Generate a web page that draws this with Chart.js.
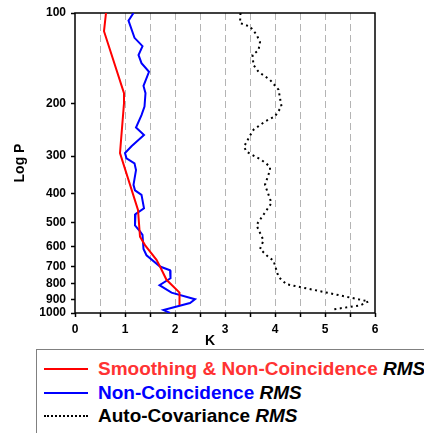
<!DOCTYPE html>
<html>
<head>
<meta charset="utf-8">
<script src="https://cdn.jsdelivr.net/npm/chart.js@4/dist/chart.umd.min.js"></script>
<style>
  html, body { margin: 0; padding: 0; background: #fff; overflow: hidden; width: 424px; height: 433px; }
  #wrap { position: absolute; left: 0; top: 0; width: 424px; height: 345px; }
  #legend {
    position: absolute; left: 36px; top: 349px; width: 420px; height: 110px;
    border: 1.5px solid #808080; box-sizing: border-box;
    font: bold 19px "Liberation Sans", Arial, sans-serif;
  }
  .row { position: absolute; left: 0; height: 22px; line-height: 22px; white-space: nowrap; }
  .swatch { position: absolute; left: 7px; top: 10px; width: 44px; height: 0; }
  .label { position: absolute; left: 61px; top: 0; }
  .label i { color: #000; }
</style>
</head>
<body>
<div id="wrap"><canvas id="profileChart" width="424" height="345"></canvas></div>
<div id="legend">
  <div class="row" style="top:8px"><span class="swatch" style="border-top:2px solid #ff0000"></span><span class="label" style="color:#ff3333">Smoothing &amp; Non-Coincidence <i>RMS</i></span></div>
  <div class="row" style="top:32px"><span class="swatch" style="border-top:2px solid #0000ff"></span><span class="label" style="color:#0000ff">Non-Coincidence <i>RMS</i></span></div>
  <div class="row" style="top:55px"><span class="swatch" style="border-top:2px dotted #000"></span><span class="label" style="color:#000">Auto-Covariance <i>RMS</i></span></div>
</div>
<script>
// pressure levels (hPa) and RMS values (K)
const smoothP = [100, 115, 185, 200, 293, 453, 557, 594, 665, 700, 775, 855, 940];
const smoothK = [0.62, 0.58, 0.98, 0.98, 0.90, 1.26, 1.30, 1.40, 1.63, 1.70, 1.83, 2.09, 2.09];

const nonCoinP = [100, 106, 121, 129, 138, 147, 157, 175, 185, 205, 219, 241, 255, 278, 293, 305, 317, 334, 374, 390,
                  404, 448, 468, 510, 534, 549, 612, 642, 700, 720, 766, 808, 855, 900, 926, 978, 1000];
const nonCoinK = [1.17, 1.07, 1.19, 1.35, 1.27, 1.33, 1.48, 1.37, 1.41, 1.39, 1.33, 1.22, 1.38, 1.13, 1.00, 1.03, 1.19, 1.22, 1.17, 1.20,
                  1.33, 1.38, 1.21, 1.20, 1.30, 1.35, 1.37, 1.43, 1.70, 1.90, 1.91, 1.69, 1.93, 2.40, 2.30, 1.77, 1.90];

const autoCovP = [100, 108, 111, 118, 125, 133, 138, 149, 157, 167, 180, 205, 221, 230, 245, 258, 279, 290, 309, 325,
                  334, 374, 430, 497, 510, 573, 612, 651, 669, 758, 802, 837, 883, 915, 944, 972];
const autoCovK = [3.31, 3.30, 3.50, 3.63, 3.70, 3.67, 3.55, 3.57, 3.67, 3.90, 4.07, 4.13, 4.00, 3.80, 3.57, 3.49, 3.38, 3.43, 3.73, 3.90,
                  3.90, 3.80, 3.93, 3.67, 3.63, 3.77, 3.70, 3.87, 3.97, 4.07, 4.23, 4.77, 5.43, 5.87, 5.70, 5.17];

const yTickValues = [100, 200, 300, 400, 500, 600, 700, 800, 900, 1000];

const toPoints = (ps, ks) => ps.map((p, i) => ({ x: ks[i], y: p }));

const tickFont = { family: '"Liberation Sans", Arial, sans-serif', size: 12, weight: 'bold' };

// frame round the plot area plus the two axis titles
const frameAndTitles = {
    id: 'frameAndTitles',
    beforeDatasetsDraw(chart) {
        const { ctx, chartArea: a } = chart;
        ctx.save();
        ctx.strokeStyle = '#000';
        ctx.lineWidth = 1.5;
        ctx.strokeRect(a.left, a.top, a.right - a.left, a.bottom - a.top);
        ctx.restore();
    },
    afterDraw(chart) {
        const { ctx, chartArea: a } = chart;
        ctx.save();
        ctx.fillStyle = '#000';
        ctx.font = 'bold 14px "Liberation Sans", Arial, sans-serif';
        ctx.textAlign = 'center';
        ctx.textBaseline = 'middle';
        ctx.fillText('K', a.left + 135, a.bottom + 28);
        ctx.translate(20, (a.top + a.bottom) / 2);
        ctx.rotate(-Math.PI / 2);
        ctx.fillText('Log P', 0, 0);
        ctx.restore();
    }
};

new Chart(document.getElementById('profileChart'), {
    type: 'line',
    data: {
        datasets: [{
            label: 'Smoothing & Non-Coincidence RMS',
            data: toPoints(smoothP, smoothK),
            borderColor: '#ff0000',
            borderWidth: 2
        }, {
            label: 'Non-Coincidence RMS',
            data: toPoints(nonCoinP, nonCoinK),
            borderColor: '#0000ff',
            borderWidth: 2
        }, {
            label: 'Auto-Covariance RMS',
            data: toPoints(autoCovP, autoCovK),
            borderColor: '#000',
            borderWidth: 2,
            borderDash: [2, 3.5]
        }]
    },
    options: {
        responsive: false,
        animation: false,
        elements: { point: { radius: 0 }, line: { tension: 0, fill: false } },
        layout: { padding: { left: 0, right: 49, top: 13, bottom: 0 } },
        plugins: {
            legend: { display: false },
            tooltip: { enabled: false }
        },
        scales: {
            x: {
                type: 'linear',
                min: 0,
                max: 6,
                afterFit: s => { s.height = 32; },
                ticks: {
                    stepSize: 0.5,
                    autoSkip: false,
                    maxRotation: 0,
                    padding: 5,
                    color: '#000',
                    font: tickFont,
                    callback: v => Number.isInteger(v) ? String(v) : ''
                },
                grid: {
                    color: c => (c.tick && (c.tick.value === 0 || c.tick.value === 6)) ? 'rgba(0,0,0,0)' : '#b4b4b4',
                    lineWidth: 1,
                    tickColor: '#000',
                    tickLength: 4,
                    tickWidth: 1.5
                },
                border: { display: false, dash: [7, 4] }
            },
            y: {
                type: 'logarithmic',
                reverse: true,
                min: 100,
                max: 1000,
                afterFit: s => { s.width = 75; },
                afterBuildTicks: s => { s.ticks = yTickValues.map(v => ({ value: v })); },
                ticks: {
                    padding: 5,
                    color: '#000',
                    font: tickFont,
                    callback: v => String(v)
                },
                grid: {
                    drawOnChartArea: false,
                    tickColor: '#000',
                    tickLength: 4,
                    tickWidth: 1.5
                },
                border: { display: false }
            }
        }
    },
    plugins: [frameAndTitles]
});
</script>
</body>
</html>
